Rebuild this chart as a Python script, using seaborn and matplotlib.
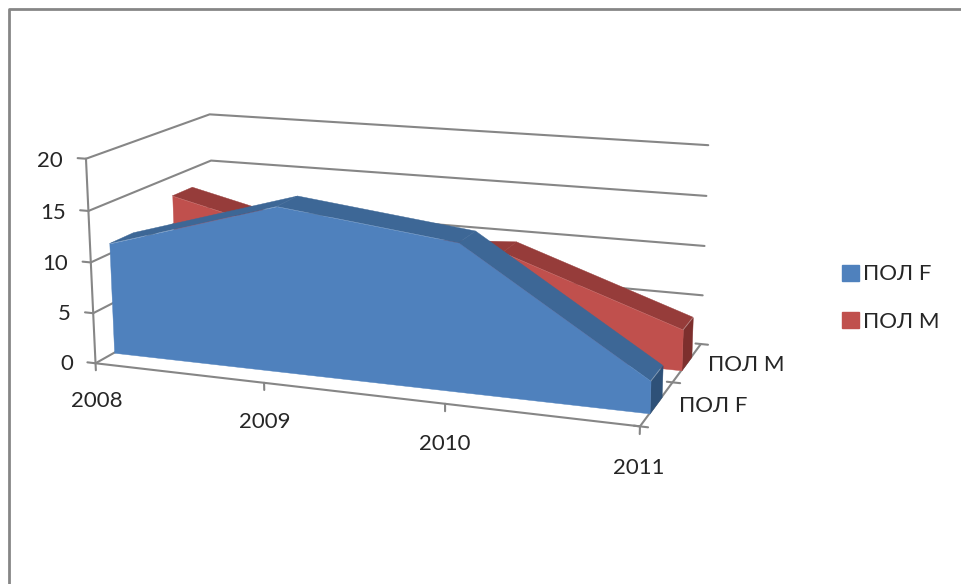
import matplotlib
matplotlib.use("Agg")
import matplotlib.pyplot as plt
from matplotlib.lines import Line2D
from matplotlib.patches import Patch
from mpl_toolkits.mplot3d import proj3d
from mpl_toolkits.mplot3d.art3d import Poly3DCollection
import seaborn as sns

years = ["2008", "2009", "2010", "2011"]
z_ticks = [0, 5, 10, 15, 20]
series_names = ["ПОЛ F", "ПОЛ М"]
pol_f = [11, 16, 14, 3]
pol_m = [13, 9, 10, 4]

sns.set_theme(style="white")
plt.rcParams["font.family"] = ["Lato", "Open Sans", "DejaVu Sans"]
blue, red = sns.color_palette(["#4F81BD", "#C0504D"])
GREY = "#868686"
TXT = "#262626"
FS = 16

W, H = 961, 584
fig = plt.figure(figsize=(W / 100, H / 100), dpi=100)

# camera and box fitted to the picture's frame
left, bottom, side = 228.2, 155.8, 339.1
ax = fig.add_axes([left / W, bottom / H, side / W, side / H], projection="3d")
ax.set_xlim(0, 3)
ax.set_ylim(0, 2)
ax.set_zlim(0, 20)
ax.set_axis_off()
ax.computed_zorder = False
ax.view_init(14.078, -69.437, 0.232)
ax.set_box_aspect((1, 0.486, 0.375), zoom=1.862)

yf_front, yf_back = 0.28, 0.65
ym_front, ym_back = 1.3, 1.65


def line3(x, y, z, zo=1):
    ax.plot(x, y, z, color=GREY, lw=1.5, zorder=zo, clip_on=False)


def label(x, y, z, s, **kw):
    xs, ys, _ = proj3d.proj_transform(x, y, z, ax.get_proj())
    ax.text2D(xs, ys, s, transform=ax.transData, fontsize=FS, color=TXT, va="center", clip_on=False, **kw)


# walls and axes
for v in z_ticks[1:]:
    line3([0, 0, 3], [0, 2, 2], [v, v, v])
for v in z_ticks:
    line3([-0.05, 0], [0, 0], [v, v])
    label(-0.14, 0, v - 0.35, str(v), ha="right")
line3([0, 0], [0, 0], [0, 20])
line3([0, 3], [0, 0], [0, 0])
line3([0, 0], [0, 2], [0, 0])
line3([3, 3], [0, 2], [0, 0])
for i, yr in enumerate(years):
    line3([i, i], [0, 0], [0, -0.7])
    label(i, 0, -3.85, yr, ha="center")
for d in [0, 1, 2]:
    line3([2.97, 3.04], [d, d], [0, 0])
for d, nm in zip([0.5, 1.5], series_names):
    label(3.115, d, 0, nm, ha="left")


def area(vals, yf, yb, col, top, side_col, zo):
    front = [(0, yf, 0)] + [(i, yf, v) for i, v in enumerate(vals)] + [(3, yf, 0)]
    strips = [[(i, yf, vals[i]), (i + 1, yf, vals[i + 1]), (i + 1, yb, vals[i + 1]), (i, yb, vals[i])] for i in range(3)]
    end = [(3, yf, 0), (3, yb, 0), (3, yb, vals[3]), (3, yf, vals[3])]
    for polys, c, dz in ((strips, top, 0), ([end], side_col, 1), ([front], col, 2)):
        pc = Poly3DCollection(polys, facecolors=c, edgecolors=c, linewidths=0.3, zorder=zo + dz)
        pc.set_clip_on(False)
        ax.add_collection3d(pc)


area(pol_m, ym_front, ym_back, red, "#963C3A", "#7D2F2D", 5)
area(pol_f, yf_front, yf_back, blue, "#3D6796", "#2E5178", 10)

# chart frame, only top and left are in the picture
fig.add_artist(Line2D([8.5 / W, 8.5 / W, 1], [0, 1 - 9 / H, 1 - 9 / H], color=GREY, lw=2))
fig.legend(handles=[Patch(color=blue, label=series_names[0]), Patch(color=red, label=series_names[1])],
           loc="center left", bbox_to_anchor=(822 / W, 1 - 298 / H), frameon=False, fontsize=FS,
           handlelength=0.75, handleheight=0.75, labelspacing=1.22, handletextpad=0.2, labelcolor=TXT)

fig.savefig("out.png", dpi=100)
